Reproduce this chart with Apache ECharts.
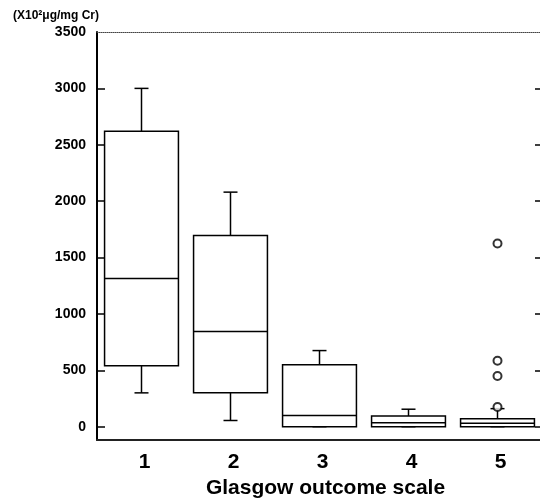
<!DOCTYPE html>
<html>
<head>
<meta charset="utf-8">
<script src="https://cdn.jsdelivr.net/npm/echarts@6/dist/echarts.min.js"></script>
<style>
  html, body { margin: 0; padding: 0; background: #fff; }
</style>
</head>
<body>
<div id="chart" style="width: 540px; height: 499px;"></div>
<script>
  // Glasgow outcome scale groups
  var categories = ['1', '2', '3', '4', '5'];
  // box statistics, x10^2 ug/mg Cr
  var whiskerLow = [300, 55, 0, 0, 0];
  var quartile1 = [540, 300, 0, 0, 0];
  var medians = [1315, 845, 100, 35, 30];
  var quartile3 = [2620, 1695, 550, 95, 70];
  var whiskerHigh = [3000, 2080, 675, 155, 160];
  // outliers (group index, value)
  var outlierGroup = [4, 4, 4, 4];
  var outlierValues = [1625, 585, 450, 175];
  var yTicks = [0, 500, 1000, 1500, 2000, 2500, 3000];
  var yLabels = [0, 500, 1000, 1500, 2000, 2500, 3000, 3500];

  var boxData = categories.map(function (c, i) {
    return [i, whiskerLow[i], quartile1[i], medians[i], quartile3[i], whiskerHigh[i]];
  });
  var outlierData = outlierValues.map(function (v, i) {
    return [outlierGroup[i], v];
  });

  function renderBox(params, api) {
    var idx = api.value(0);
    var pLow = api.coord([idx, api.value(1)]);
    var pQ1 = api.coord([idx, api.value(2)]);
    var pMed = api.coord([idx, api.value(3)]);
    var pQ3 = api.coord([idx, api.value(4)]);
    var pHigh = api.coord([idx, api.value(5)]);
    var halfBox = api.size([1, 0])[0] * 0.415;
    var halfCap = 7;
    var x = pLow[0];
    var st = { stroke: '#000', lineWidth: 1.5, fill: null };
    return {
      type: 'group',
      children: [
        { type: 'line', shape: { x1: x, y1: pQ3[1], x2: x, y2: pHigh[1] }, style: st },
        { type: 'line', shape: { x1: x, y1: pQ1[1], x2: x, y2: pLow[1] }, style: st },
        { type: 'line', shape: { x1: x - halfCap, y1: pHigh[1], x2: x + halfCap, y2: pHigh[1] }, style: st },
        { type: 'line', shape: { x1: x - halfCap, y1: pLow[1], x2: x + halfCap, y2: pLow[1] }, style: st },
        {
          type: 'rect',
          shape: { x: x - halfBox, y: pQ3[1], width: halfBox * 2, height: pQ1[1] - pQ3[1] },
          style: { fill: '#fff', stroke: '#000', lineWidth: 1.5 }
        },
        { type: 'line', shape: { x1: x - halfBox, y1: pMed[1], x2: x + halfBox, y2: pMed[1] }, style: st }
      ]
    };
  }

  var chart = echarts.init(document.getElementById('chart'));

  var option = {
    animation: false,
    backgroundColor: '#fff',
    title: {
      text: '(X10\u00b2\u03bcg/mg Cr)',
      left: 13,
      top: 10,
      padding: 0,
      textStyle: { fontFamily: 'Liberation Sans', fontSize: 12, fontWeight: 'bold', color: '#000' }
    },
    grid: { left: 97, right: -2, top: 32, bottom: 59, outerBoundsMode: 'none', containLabel: false },
    xAxis: [
      {
        type: 'category',
        data: categories,
        boundaryGap: true,
        axisLine: { onZero: false, lineStyle: { color: '#222', width: 2 } },
        axisTick: { show: false },
        axisLabel: {
          margin: 12,
          padding: [0, 0, 0, 6],
          fontFamily: 'Liberation Sans',
          fontSize: 21,
          fontWeight: 'bold',
          color: '#000'
        },
        name: 'Glasgow outcome scale',
        nameLocation: 'middle',
        nameGap: 33,
        nameTextStyle: {
          fontFamily: 'Liberation Sans',
          fontSize: 21,
          fontWeight: 'bold',
          color: '#000',
          padding: [0, 0, 0, 12]
        },
        splitLine: { show: false }
      },
      {
        type: 'category',
        data: categories,
        position: 'top',
        axisLine: { onZero: false, lineStyle: { color: '#444', width: 1, type: 'dotted' } },
        axisTick: { show: false },
        axisLabel: { show: false },
        splitLine: { show: false }
      }
    ],
    yAxis: [
      {
        type: 'value',
        min: -118,
        max: 3500,
        axisLine: { show: true, onZero: false, lineStyle: { color: '#000', width: 2 } },
        axisTick: {
          show: true,
          inside: true,
          length: 8,
          customValues: yTicks,
          lineStyle: { color: '#000', width: 1.5 }
        },
        axisLabel: {
          customValues: yLabels,
          margin: 11,
          formatter: function (v) { return String(v); },
          fontFamily: 'Liberation Sans',
          fontSize: 14,
          fontWeight: 'bold',
          color: '#000'
        },
        splitLine: { show: false }
      },
      {
        type: 'value',
        min: -118,
        max: 3500,
        position: 'right',
        axisLine: { show: false, onZero: false },
        axisTick: {
          show: true,
          inside: true,
          length: 7,
          customValues: yTicks,
          lineStyle: { color: '#000', width: 1.5 }
        },
        axisLabel: { show: false },
        splitLine: { show: false }
      }
    ],
    series: [
      {
        type: 'custom',
        renderItem: renderBox,
        data: boxData,
        encode: { x: 0, y: [1, 2, 3, 4, 5] },
        z: 2
      },
      {
        type: 'scatter',
        data: outlierData,
        symbol: 'circle',
        symbolSize: 8,
        itemStyle: { color: '#fff', borderColor: '#000', borderWidth: 2 },
        z: 3
      }
    ]
  };

  chart.setOption(option);
</script>
</body>
</html>
